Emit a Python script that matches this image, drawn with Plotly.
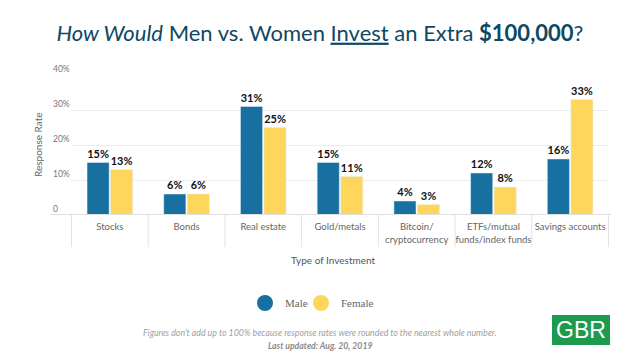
import plotly.graph_objects as go

categories = ["Stocks", "Bonds", "Real estate", "Gold/metals",
              "Bitcoin/<br>cryptocurrency", "ETFs/mutual<br>funds/index funds",
              "Savings accounts"]
male = [15, 6, 31, 15, 4, 12, 16]
female = [13, 6, 25, 11, 3, 8, 33]
y_ticks = [0, 10, 20, 30, 40]
y_tick_labels = ["0", "10%", "20%", "30%", "40%"]

MALE_C = "#17709f"
FEMALE_C = "#fed65b"
FONT = "Lato"

OFF = 8  # page body margin offset

fig = go.Figure()
fig.add_bar(x=categories, y=male, name="Male", marker_color=MALE_C,
            text=[f"<b>{v}%</b>" for v in male], textposition="outside",
            textfont=dict(family=FONT, size=11, color="#111"), cliponaxis=False,
            showlegend=False)
fig.add_bar(x=categories, y=female, name="Female", marker_color=FEMALE_C,
            text=[f"<b>{v}%</b>" for v in female], textposition="outside",
            textfont=dict(family=FONT, size=11, color="#111"), cliponaxis=False,
            showlegend=False)
# legend entries as circles
fig.add_scatter(x=[None], y=[None], mode="markers", name="Male", legend="legend",
                marker=dict(color=MALE_C, size=16, symbol="circle"))
fig.add_scatter(x=[None], y=[None], mode="markers", name="Female", legend="legend2",
                marker=dict(color=FEMALE_C, size=16, symbol="circle"))

SL, ST = 71, 75  # plot area on screen
PW, PH = 538, 140
L, T = SL - OFF, ST - OFF
R = 640 - L - PW
B = 360 - T - PH

shapes = []
shapes.append(dict(type="line", xref="paper", yref="y", x0=-20 / PW, x1=1 + 3 / PW,
                   y0=0, y1=0, line=dict(color="#e0e0e0", width=2), layer="above"))
for i in range(len(categories) + 1):
    shapes.append(dict(type="line", xref="x", yref="paper", x0=i - 0.5, x1=i - 0.5,
                       y0=0, y1=-32 / PH, line=dict(color="#e3e3e3", width=1)))
shapes.append(dict(type="rect", xref="paper", yref="paper",
                   x0=(552 - SL) / PW, x1=(610 - SL) / PW,
                   y0=-(315 - 215) / PH, y1=-(345 - 215) / PH,
                   fillcolor="#1e9a4e", line=dict(width=0)))

annotations = []
for v, t in zip(y_ticks, y_tick_labels):
    annotations.append(dict(xref="paper", yref="y", x=0, y=v, xshift=-20, yshift=6,
                            text=t, showarrow=False, xanchor="left", yanchor="middle",
                            font=dict(family=FONT, size=8.5, color="#777")))
annotations.append(dict(xref="paper", yref="paper", x=0, y=0.5, xshift=-33,
                        text="Response Rate", textangle=-90, showarrow=False,
                        xanchor="center", yanchor="middle",
                        font=dict(family=FONT, size=10, color="#666")))
annotations.append(dict(xref="paper", yref="paper", x=(333 - SL) / PW, y=-(260 - 215) / PH,
                        text="Type of Investment", showarrow=False,
                        xanchor="center", yanchor="middle",
                        font=dict(family=FONT, size=10, color="#555")))
annotations.append(dict(xref="paper", yref="paper", x=(320 - SL) / PW, y=-(332 - 215) / PH,
                        text="<i>Figures don't add up to 100% because response rates were rounded to the nearest whole number.</i>",
                        showarrow=False, xanchor="center", yanchor="middle",
                        font=dict(family=FONT, size=8.8, color="#a0a0a0")))
annotations.append(dict(xref="paper", yref="paper", x=(320 - SL) / PW, y=-(345 - 215) / PH,
                        text="<b><i>Last updated: Aug. 20, 2019</i></b>",
                        showarrow=False, xanchor="center", yanchor="middle",
                        font=dict(family=FONT, size=8.7, color="#8a8a8a")))
annotations.append(dict(xref="paper", yref="paper", x=(581 - SL) / PW, y=-(330 - 215) / PH,
                        text="GBR", showarrow=False, xanchor="center", yanchor="middle",
                        font=dict(family="Liberation Sans", size=23, color="white")))

legend_font = dict(family="Liberation Serif", size=11, color="#666")
fig.update_layout(
    width=640, height=360,
    margin=dict(l=L, r=R, t=T, b=B, autoexpand=False),
    paper_bgcolor="white", plot_bgcolor="white",
    title=dict(text="<i>How Would</i> Men vs. Women <u>Invest</u> an Extra <b>$100,000</b>?",
               x=(320 - OFF) / 640, xref="container", xanchor="center",
               y=1 - (33 - OFF) / 360, yref="container", yanchor="middle",
               font=dict(family=FONT, size=22, color="#0f4862")),
    barmode="group", bargap=0.387, bargroupgap=0.06,
    xaxis=dict(showline=False, ticks="outside", ticklen=3, tickcolor="rgba(0,0,0,0)",
               tickfont=dict(family=FONT, size=9.5, color="#666"), showgrid=False,
               fixedrange=True),
    yaxis=dict(range=[0, 40], tickvals=y_ticks, showticklabels=False, showgrid=True,
               gridcolor="#ececec", gridwidth=1, zeroline=False, fixedrange=True),
    legend=dict(orientation="h", x=(245 - SL) / PW, xanchor="left",
                y=-(303 - 215) / PH, yanchor="middle", font=legend_font, itemwidth=30,
                bgcolor="rgba(0,0,0,0)"),
    legend2=dict(orientation="h", x=(301 - SL) / PW, xanchor="left",
                 y=-(303 - 215) / PH, yanchor="middle", font=legend_font, itemwidth=30,
                 bgcolor="rgba(0,0,0,0)"),
    shapes=shapes, annotations=annotations,
    showlegend=True,
)
fig.write_html("out.html")
